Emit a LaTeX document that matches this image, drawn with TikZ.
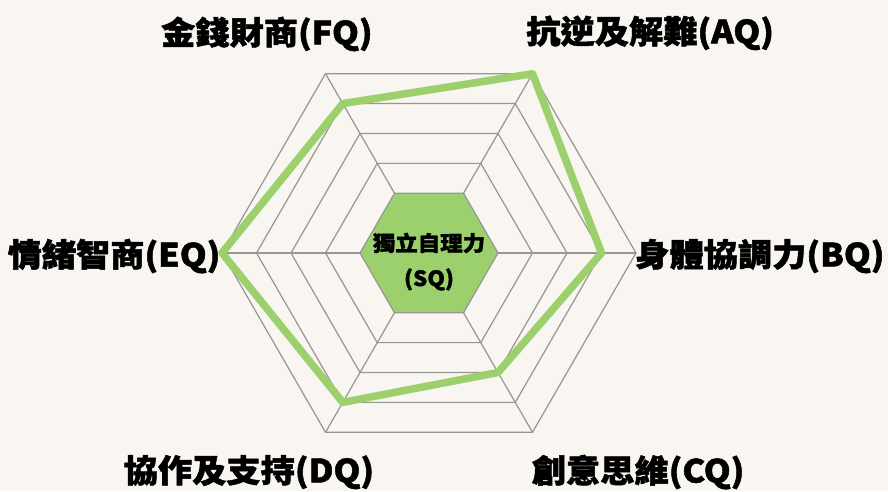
\documentclass[tikz,border=0pt]{standalone}
\usepackage{fontspec}
\usepackage{xcolor}
\usepackage{tikz}
\usetikzlibrary{positioning}
\newfontfamily\cjkfont{Noto Sans CJK TC}[FakeStretch=1.07,FakeBold=1.6]
\definecolor{bgcream}{RGB}{249,245,240}
\definecolor{radargreen}{RGB}{155,208,108}
\definecolor{gridgray}{RGB}{150,150,150}

\begin{document}
\begin{tikzpicture}[x=34.5pt,y=34.5pt,
		gridline/.style={gridgray,line width=1.2pt},
		axislabel/.style={font=\cjkfont\bfseries\fontsize{32}{36}\selectfont,inner sep=0pt}]
		\fill[bgcream] (-12.435,-6.899) rectangle (13.304,7.333);
		\useasboundingbox (-12.435,-6.899) rectangle (13.304,7.333);
		% rings and spokes
		\fill[radargreen] (0:2) -- (60:2) -- (120:2) -- (180:2) -- (240:2) -- (300:2) -- cycle;
		\foreach \r in {2,...,6}
			\draw[gridline] (0:\r) -- (60:\r) -- (120:\r) -- (180:\r) -- (240:\r) -- (300:\r) -- cycle;
		\foreach \a in {0,60,...,300}
			\draw[gridline] (\a:2) -- (\a:6);
		% scores
		\draw[radargreen,line width=7.5pt,line join=round] (0:5) -- (60:6) -- (120:5) -- (180:6) -- (240:5) -- (300:4) -- cycle;
		\node[font=\cjkfont\bfseries\fontsize{21}{35}\selectfont,align=center] (SQ) at (0,-0.25) {獨立自理力\\(SQ)};
		\node[axislabel] (FQ) at (-4.70,6.35) {金錢財商(FQ)};
		\node[axislabel] (AQ) at (6.41,6.38) {抗逆及解難(AQ)};
		\node[axislabel] (EQ) at (-9.13,-0.09) {情緒智商(EQ)};
		\node[axislabel] (BQ) at (9.59,-0.09) {身體協調力(BQ)};
		\node[axislabel] (DQ) at (-5.22,-6.35) {協作及支持(DQ)};
		\node[axislabel] (CQ) at (6.06,-6.35) {創意思維(CQ)};
	\end{tikzpicture}
\end{document}
